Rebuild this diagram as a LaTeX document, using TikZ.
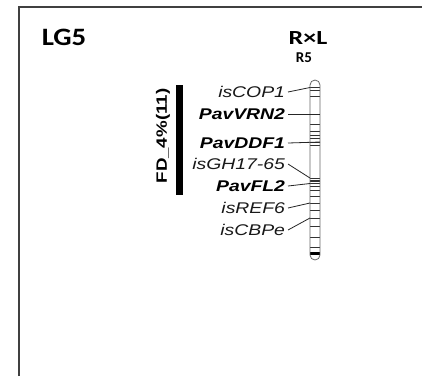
\documentclass[tikz,border=0pt]{standalone}
\usepackage{fontspec}
\usepackage{graphicx}
\setmainfont{Liberation Sans}
\newfontfamily\calib{Carlito}
\newcommand{\wide}[2]{\scalebox{#1}[1]{#2}}
\begin{document}
\begin{tikzpicture}[x=1pt,y=-1pt,
  lab/.style={font=\fontsize{15.5}{17}\selectfont\itshape, inner sep=0pt, outer sep=3pt, anchor=east, text=black!90},
  blab/.style={lab, font=\fontsize{15.5}{17}\selectfont\bfseries\itshape, text=black},
  conn/.style={line width=0.8pt, black!85},
  tickline/.style={line width=0.6pt, black!80},
  chrom/.style={line width=0.8pt, black!60},
  frame/.style={line width=2pt, black!75}]
\useasboundingbox (0,0) rectangle (422,376);
\fill[white] (0,0) rectangle (422,376);
\draw[frame] (19,376) -- (19,7) -- (422,7);

\node[font=\calib\bfseries\fontsize{25}{27}\selectfont, inner sep=0pt] (lg) at (64,37) {\wide{1.15}{LG5}};
\node[font=\calib\bfseries\fontsize{20}{22}\selectfont, inner sep=0pt] (rl) at (308,38) {\wide{1.3}{R×L}};
\node[font=\calib\bfseries\fontsize{15}{17}\selectfont, inner sep=0pt] (r5) at (304,58) {R5};

% QTL bar and label
\fill[black] (176,85) rectangle (183,195);
\node[font=\fontsize{15}{17}\selectfont\bfseries, rotate=90, inner sep=0pt] (fd) at (163,136) {\wide{1.25}{FD\_4\%(11)}};

% chromosome
\fill[black] (310,251.5) rectangle (320,255);
\foreach \yy in {87.5,90,96,114,124,131,135,138,142,145,178,180,181.5,183.5,186,190,196,203,210,218,226,237,247}
  \draw[tickline] (310,\yy) -- (320,\yy);
\draw[chrom] (310,85) arc (180:360:5) -- (320,255) arc (0:180:5) -- cycle;

% marker labels
\node[lab]  (l1) at (288,92)  {\wide{1.25}{isCOP1}};
\node[blab] (l2) at (288,114) {\wide{1.25}{PavVRN2}};
\node[blab] (l3) at (288,143) {\wide{1.25}{PavDDF1}};
\node[lab]  (l4) at (288,164) {\wide{1.25}{isGH17-65}};
\node[blab] (l5) at (288,186) {\wide{1.25}{PavFL2}};
\node[lab]  (l6) at (288,208) {\wide{1.25}{isREF6}};
\node[lab]  (l7) at (288,230) {\wide{1.25}{isCBPe}};

\coordinate (c1) at (310,87.5);
\coordinate (c2) at (320,114);
\coordinate (c3) at (320,142);
\coordinate (c4) at (310,178);
\coordinate (c5) at (310,183.5);
\coordinate (c6) at (310,203);
\coordinate (c7) at (310,218);

\draw[conn] (l1.east) -- (c1);
\draw[conn] (l2.east) -- (c2);
\draw[conn] (l3.east) -- (c3);
\draw[conn] (l4.east) -- (c4);
\draw[conn] (l5.east) -- (c5);
\draw[conn] (l6.east) -- (c6);
\draw[conn] (l7.east) -- (c7);
\end{tikzpicture}
\end{document}
